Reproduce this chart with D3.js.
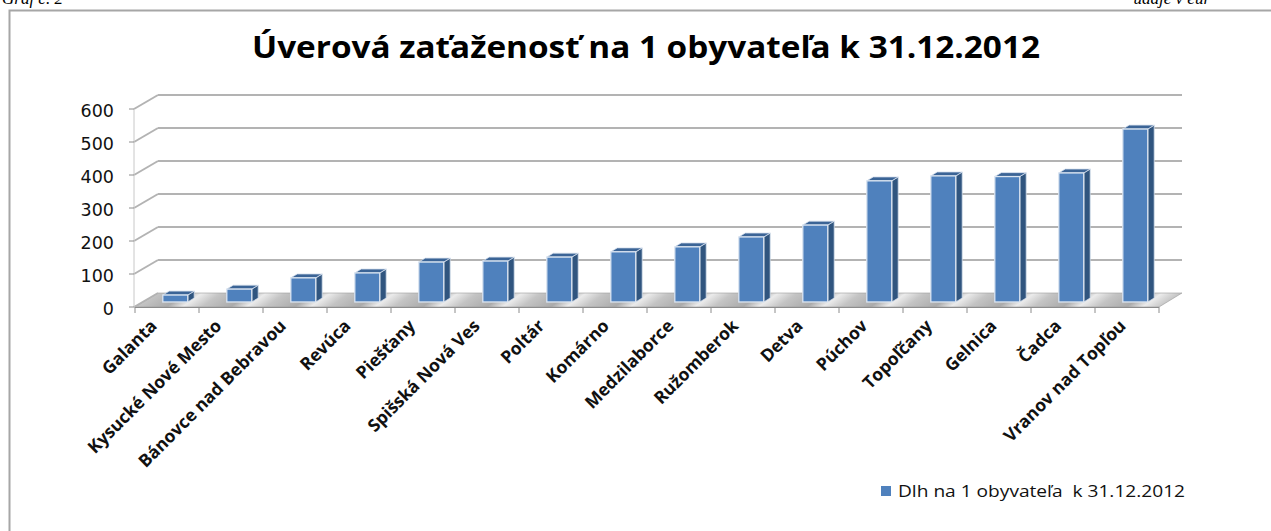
<!DOCTYPE html>
<html>
<head>
<meta charset="utf-8">
<script src="https://cdn.jsdelivr.net/npm/d3@7"></script>
<style>
  html, body { margin: 0; padding: 0; background: #fff; }
  svg { display: block; }
</style>
</head>
<body>
<script>
// categories and values (EUR per inhabitant)
const districts = ["Galanta", "Kysucké Nové Mesto", "Bánovce nad Bebravou", "Revúca", "Piešťany",
  "Spišská Nová Ves", "Poltár", "Komárno", "Medzilaborce", "Ružomberok", "Detva", "Púchov",
  "Topoľčany", "Gelnica", "Čadca", "Vranov nad Topľou"];
const debt = [21, 39, 73, 88, 121, 124, 136, 152, 167, 197, 233, 367, 382, 380, 391, 524];
const yTicks = [0, 100, 200, 300, 400, 500, 600];
const seriesName = "Dlh na 1 obyvateľa  k 31.12.2012";
const title = "Úverová zaťaženosť na 1 obyvateľa k 31.12.2012";

const width = 1271, height = 531;

// front plane of the 3d box, and the shift to its back wall
const x0 = 135, x1 = 1159,
  yBase = 307, yTopV = 109,
  depthX = 23, depthY = 14;
// bars sit a bit into the box
const barOff = 0.36, barDepth = 0.28;

const x = d3.scaleBand().domain(districts).range([x0, x1]).padding(0);
const y = d3.scaleLinear().domain([0, 600]).range([yBase, yTopV]);

const svg = d3.select("body").append("svg")
  .attr("width", width)
  .attr("height", height);

const defs = svg.append("defs");
// the grey floor with its soft diagonal sheen
const fg = defs.append("linearGradient")
  .attr("id", "floor")
  .attr("gradientUnits", "userSpaceOnUse")
  .attr("x1", 0).attr("y1", 0).attr("x2", x.step()).attr("y2", 0)
  .attr("gradientTransform", "skewX(-55)")
  .attr("spreadMethod", "repeat");
fg.append("stop").attr("offset", "0%").attr("stop-color", "#c4c4c4");
fg.append("stop").attr("offset", "45%").attr("stop-color", "#ababab");
fg.append("stop").attr("offset", "70%").attr("stop-color", "#ebebeb");
fg.append("stop").attr("offset", "100%").attr("stop-color", "#c4c4c4");

// page bits around the chart (cut at the top, as in the scan)
svg.append("text")
  .attr("x", 2).attr("y", 4)
  .attr("font-family", "Liberation Serif, serif")
  .attr("font-style", "italic")
  .attr("font-size", 17)
  .text("Graf č. 2");
svg.append("text")
  .attr("x", 1210).attr("y", 4)
  .attr("text-anchor", "end")
  .attr("font-family", "Liberation Serif, serif")
  .attr("font-style", "italic")
  .attr("font-size", 17)
  .text("údaje v eur");

// chart frame
svg.append("rect")
  .attr("x", 9.5).attr("y", 10.5)
  .attr("width", 1300).attr("height", 600)
  .attr("fill", "none")
  .attr("stroke", "#a6a6a6")
  .attr("stroke-width", 2);

// title
svg.append("text")
  .attr("x", 646).attr("y", 58)
  .attr("text-anchor", "middle")
  .attr("font-family", "Open Sans, sans-serif")
  .attr("font-weight", "bold")
  .attr("font-size", 30)
  .attr("textLength", 788)
  .attr("lengthAdjust", "spacingAndGlyphs")
  .text(title);

// floor
svg.append("path")
  .attr("d", `M${x0},${yBase} L${x1},${yBase} L${x1 + depthX},${yBase - depthY} L${x0 + depthX},${yBase - depthY} Z`)
  .attr("fill", "url(#floor)")
  .attr("stroke", "#9a9a9a")
  .attr("stroke-width", 0.6);

// gridlines on back wall, with diagonals on the left side
const grid = svg.append("g").attr("stroke", "#b3b3b3").attr("stroke-width", 2).attr("fill", "none");
grid.selectAll("line.back")
  .data(yTicks.filter(d => d > 0))
  .join("line")
  .attr("class", "back")
  .attr("x1", x0 + depthX).attr("x2", x1 + depthX)
  .attr("y1", d => y(d) - depthY).attr("y2", d => y(d) - depthY);
grid.selectAll("line.side")
  .data(yTicks)
  .join("line")
  .attr("class", "side")
  .attr("x1", x0 - 1).attr("x2", x0 + depthX)
  .attr("y1", d => y(d)).attr("y2", d => y(d) - depthY);

// y axis: ticks and labels
const yAxis = svg.append("g");
yAxis.append("line")
  .attr("x1", x0 - 1).attr("x2", x0 - 1)
  .attr("y1", y(600)).attr("y2", y(0))
  .attr("stroke", "#c8c8c8").attr("stroke-width", 1);
yAxis.selectAll("line.tick")
  .data(yTicks)
  .join("line")
  .attr("class", "tick")
  .attr("x1", x0 - 6).attr("x2", x0 - 1)
  .attr("y1", d => y(d)).attr("y2", d => y(d))
  .attr("stroke", "#8c8c8c").attr("stroke-width", 1);
yAxis.selectAll("text")
  .data(yTicks)
  .join("text")
  .attr("x", x0 - 21)
  .attr("y", d => y(d) + 2)
  .attr("dominant-baseline", "central")
  .attr("text-anchor", "end")
  .attr("font-family", "DejaVu Sans, sans-serif")
  .attr("font-size", 17.5)
  .attr("fill", "#111")
  .text(d => d);

// bars
const bx = barOff * depthX, by = barOff * depthY;
const dx = barDepth * depthX, dy = barDepth * depthY;
const bw = x.bandwidth() * 0.39;

const bars = svg.append("g")
  .selectAll("g")
  .data(districts.map((d, i) => ({ name: d, v: debt[i] })))
  .join("g");

bars.each(function (d) {
  const g = d3.select(this);
  const left = x(d.name) + (x.bandwidth() - bw) / 2 + bx;
  const right = left + bw;
  const top = y(d.v) - by;
  const base = y(0) - by;
  // side
  g.append("path")
    .attr("d", `M${right},${top} L${right + dx},${top - dy} L${right + dx},${base - dy} L${right},${base} Z`)
    .attr("fill", "#30557f")
    .attr("stroke", "#d5e0ee").attr("stroke-width", 0.8);
  // top
  g.append("path")
    .attr("d", `M${left},${top} L${left + dx},${top - dy} L${right + dx},${top - dy} L${right},${top} Z`)
    .attr("fill", "#3b6496")
    .attr("stroke", "#d5e0ee").attr("stroke-width", 0.8);
  // front
  g.append("rect")
    .attr("x", left).attr("y", top)
    .attr("width", bw).attr("height", base - top)
    .attr("fill", "#4f81bd")
    .attr("stroke", "#dbe5f1").attr("stroke-width", 1.3);
});

// category axis
const xAxis = svg.append("g");
xAxis.append("line")
  .attr("x1", x0).attr("x2", x1)
  .attr("y1", yBase + 0.5).attr("y2", yBase + 0.5)
  .attr("stroke", "#8c8c8c");
xAxis.selectAll("line.tick")
  .data(d3.range(districts.length + 1))
  .join("line")
  .attr("class", "tick")
  .attr("x1", i => x0 + i * x.step()).attr("x2", i => x0 + i * x.step())
  .attr("y1", yBase).attr("y2", yBase + 6)
  .attr("stroke", "#8c8c8c");
// labels fan out a little less than the bars in the original
xAxis.selectAll("text")
  .data(districts)
  .join("text")
  .attr("transform", (d, i) => `translate(${x(d) + x.bandwidth() / 2 - 9 + i * 0.6},${yBase + 20}) rotate(-45)`)
  .attr("text-anchor", "end")
  .attr("font-family", "Open Sans, sans-serif")
  .attr("font-weight", "bold")
  .attr("font-size", 17.5)
  .attr("fill", "#111")
  .text(d => d);

// legend
const lg = svg.append("g").attr("transform", "translate(881,486)");
lg.append("rect").attr("width", 10).attr("height", 10).attr("fill", "#4f81bd");
lg.append("text")
  .attr("x", 17).attr("y", 5)
  .attr("dominant-baseline", "central")
  .attr("font-family", "Open Sans, sans-serif")
  .attr("font-size", 16)
  .attr("fill", "#111")
  .style("white-space", "pre")
  .attr("textLength", 287)
  .attr("lengthAdjust", "spacingAndGlyphs")
  .text(seriesName);
</script>
</body>
</html>
